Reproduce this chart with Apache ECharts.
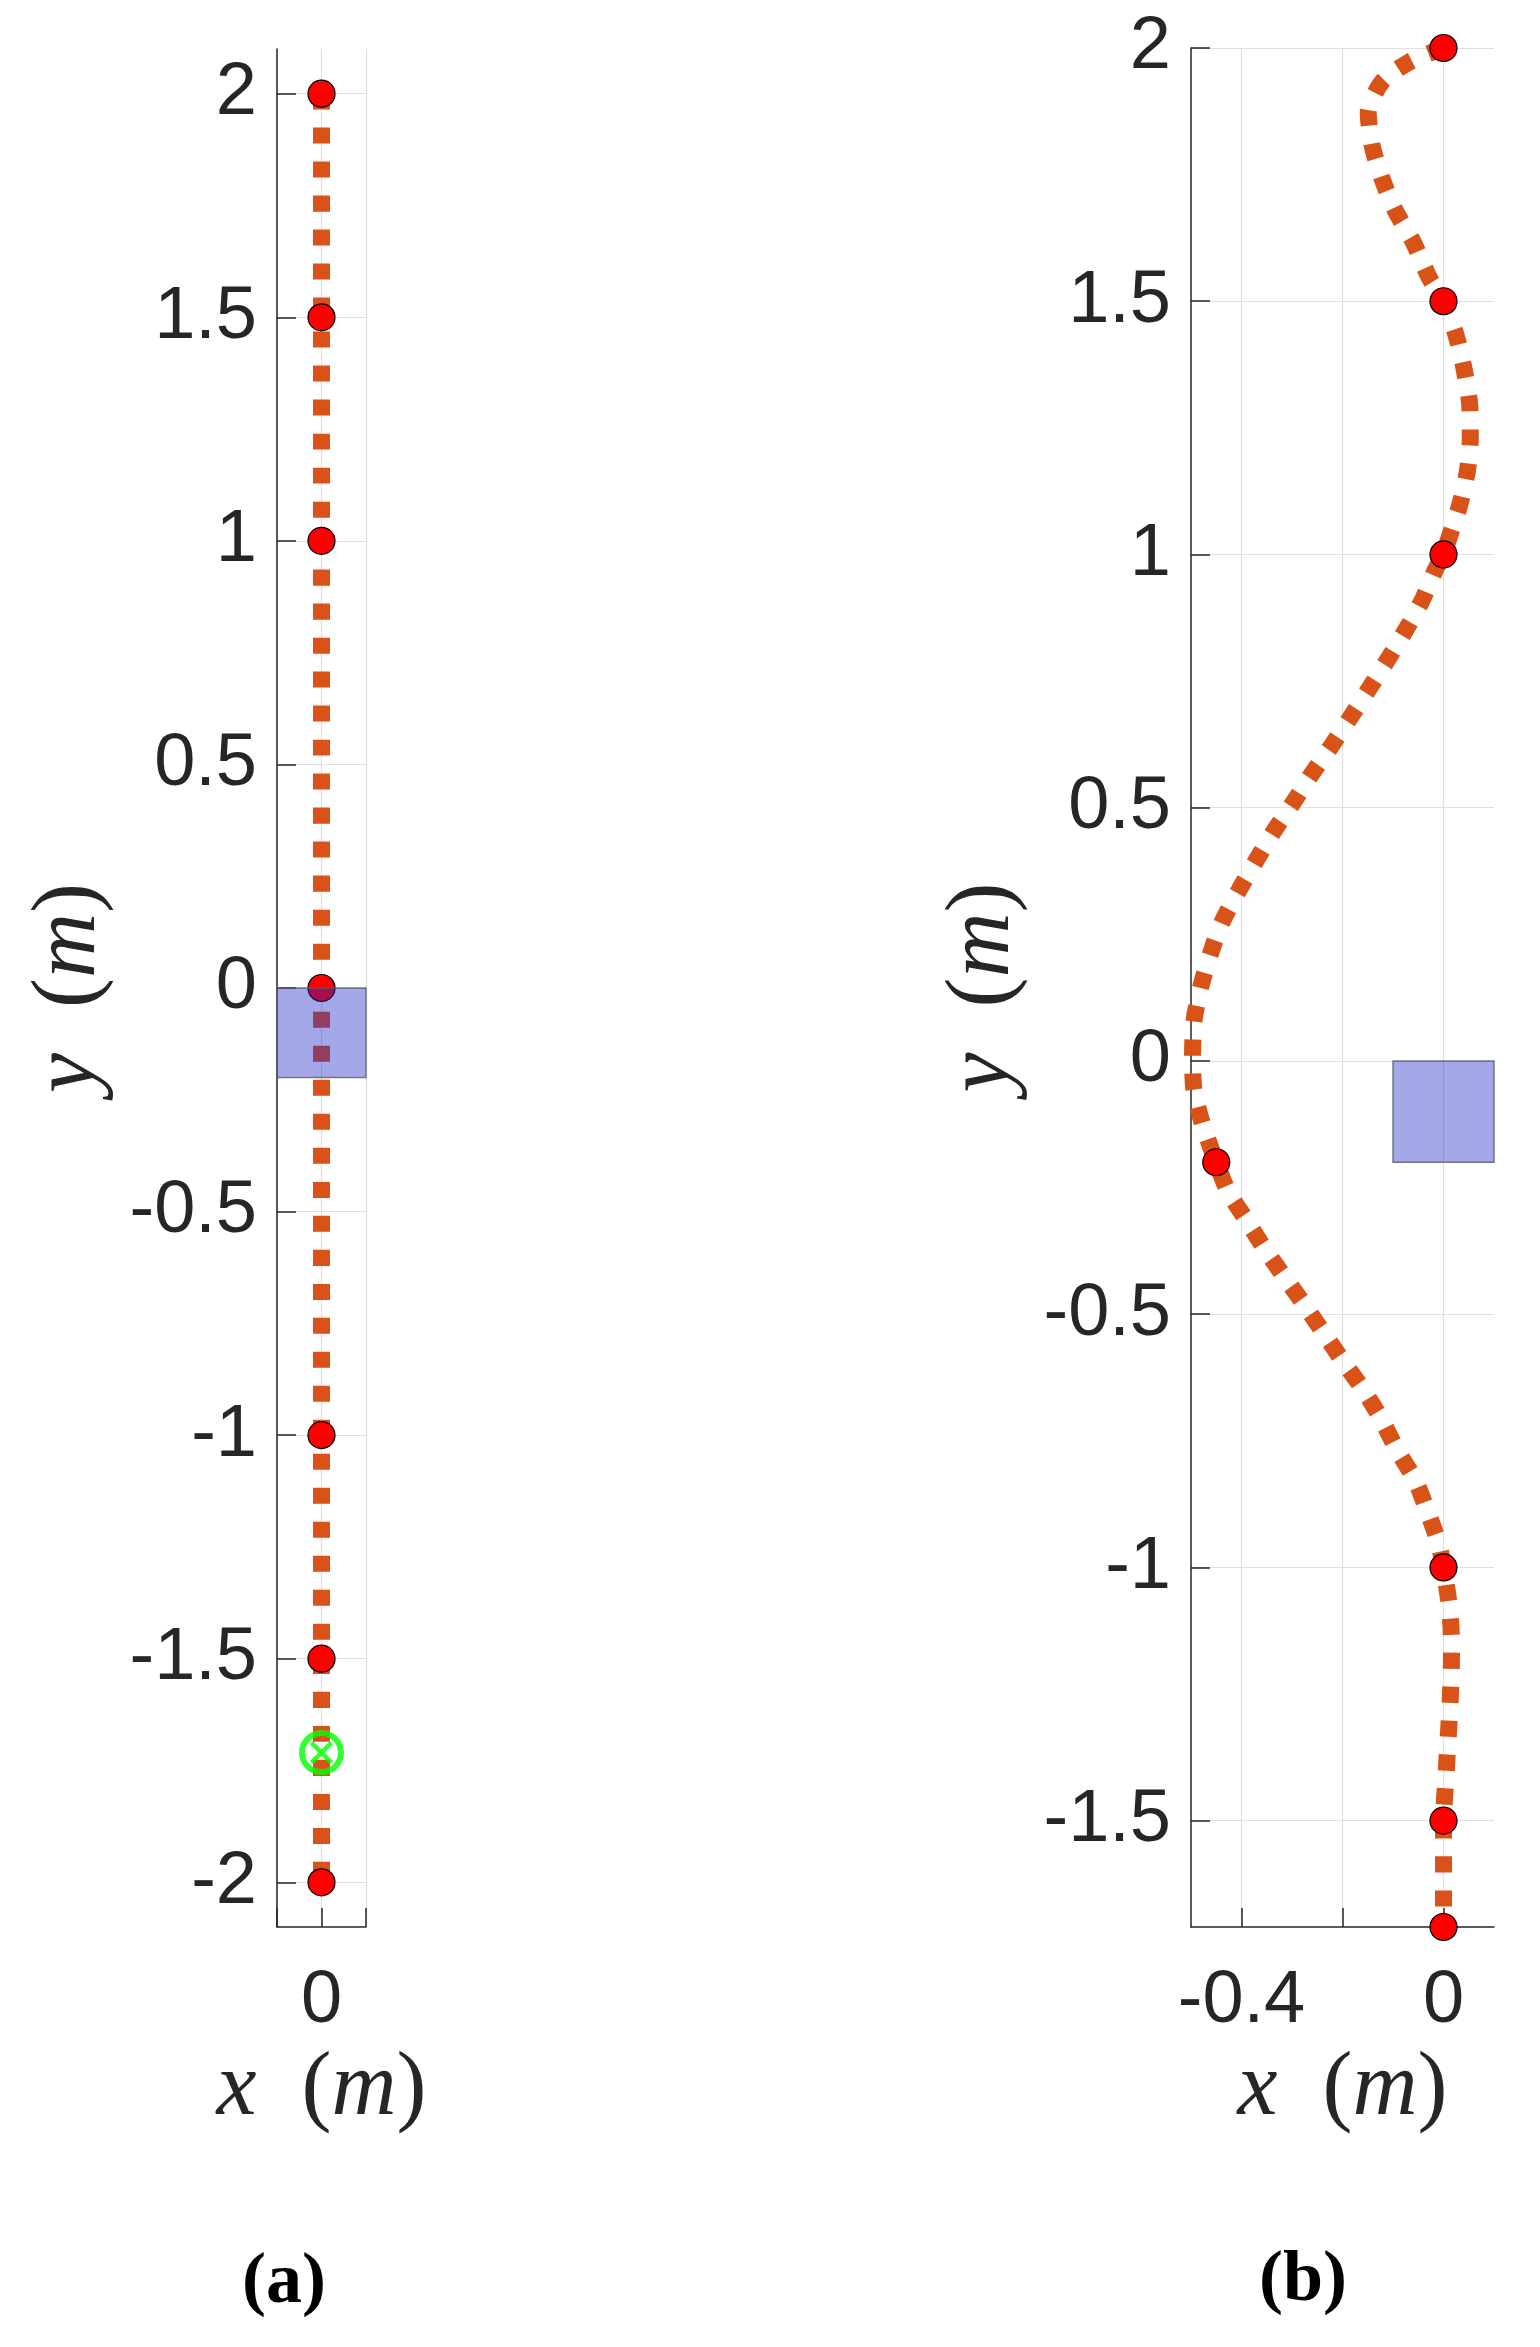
<!DOCTYPE html>
<html>
<head>
<meta charset="utf-8">
<script src="https://cdn.jsdelivr.net/npm/echarts@6/dist/echarts.min.js"></script>
<style>
html,body{margin:0;padding:0;background:#fff;}
#chart{width:1540px;height:2347px;}
</style>
</head>
<body>
<div id="chart"></div>
<script>
// ---------- data ----------
// panel (a): straight path
const pathA_x = [0, 0];
const pathA_y = [2, -2];
const waypointsA_x = [0, 0, 0, 0, 0, 0, 0];
const waypointsA_y = [2, 1.5, 1, 0, -1, -1.5, -2];
const targetA = [0, -1.71];

// panel (b): deviated path
const pathB_x = [0, -0.065, -0.121, -0.149, -0.141, -0.121, -0.095, -0.060, -0.028, 0,
  0.024, 0.040, 0.052, 0.053, 0.047, 0.032, 0.012, 0, -0.016, -0.043, -0.076, -0.112,
  -0.148, -0.186, -0.224, -0.262, -0.299, -0.337, -0.372, -0.405, -0.438, -0.460, -0.481,
  -0.494, -0.497, -0.494, -0.477, -0.450, -0.427, -0.393, -0.356, -0.319, -0.278, -0.238,
  -0.202, -0.161, -0.125, -0.093, -0.056, -0.032, -0.010, 0, 0.012, 0.016, 0.015, 0.012,
  0.008, 0.004, 0, 0, 0, 0];
const pathB_y = [2, 1.974, 1.934, 1.872, 1.806, 1.740, 1.678, 1.617, 1.546, 1.5,
  1.436, 1.370, 1.295, 1.229, 1.163, 1.097, 1.036, 1, 0.970, 0.908, 0.849, 0.790,
  0.734, 0.676, 0.619, 0.565, 0.508, 0.452, 0.394, 0.337, 0.275, 0.216, 0.145,
  0.079, 0.008, -0.058, -0.125, -0.200, -0.257, -0.310, -0.368, -0.421, -0.478, -0.536,
  -0.589, -0.646, -0.704, -0.766, -0.828, -0.889, -0.951, -1, -1.08, -1.155, -1.219, -1.288,
  -1.358, -1.427, -1.5, -1.56, -1.63, -1.71];
const waypointsB_x = [0, 0, 0, -0.45, 0, 0, 0];
const waypointsB_y = [2, 1.5, 1, -0.2, -1, -1.5, -1.71];

// obstacle box [x0, x1, y0, y1]
const boxX = [-0.1, 0.1];
const boxY = [-0.2, 0];

// ticks
const yTicksA = [-2, -1.5, -1, -0.5, 0, 0.5, 1, 1.5, 2];
const xTicksA = [-0.1, 0, 0.1];
const xLabelsA = [0];
const yTicksB = [-1.5, -1, -0.5, 0, 0.5, 1, 1.5, 2];
const xTicksB = [-0.4, -0.2, 0];
const xLabelsB = [-0.4, 0];

// ---------- helpers ----------
const zip = (xs, ys) => xs.map((x, i) => [x, ys[i]]);
const AX = '#262626';
const GRIDC = '#e0e0e0';
const LINEC = '#D95319';
const tickFont = {fontFamily: 'Liberation Sans', fontSize: 74, color: AX};
const mathRich = {
  i: {fontFamily: 'Liberation Serif', fontStyle: 'italic', fontSize: 90, color: AX},
  r: {fontFamily: 'Liberation Serif', fontSize: 90, color: AX}
};
function axisName(v) { return '{i|' + v + '}{r|\u2002(}{i|m}{r|)}'; }

function xAxisCfg(idx, min, max, ticks, labels) {
  return {
    type: 'value', gridIndex: idx, min: min, max: max,
    axisLine: {show: true, onZero: false, lineStyle: {color: AX, width: 1.5}},
    axisTick: {show: true, inside: true, length: 19, customValues: ticks, lineStyle: {color: AX, width: 1.5}},
    axisLabel: Object.assign({margin: 38, customValues: labels}, tickFont),
    splitLine: {show: true, lineStyle: {color: GRIDC, width: 1.2}},
    name: axisName('x'), nameLocation: 'middle', nameGap: 118,
    nameTextStyle: {fontSize: 90, rich: mathRich}
  };
}
function yAxisCfg(idx, min, max, ticks) {
  return {
    type: 'value', gridIndex: idx, min: min, max: max,
    axisLine: {show: true, onZero: false, lineStyle: {color: AX, width: 1.5}},
    axisTick: {show: true, inside: true, length: 19, customValues: ticks, lineStyle: {color: AX, width: 1.5}},
    axisLabel: Object.assign({margin: 20, customValues: ticks}, tickFont),
    splitLine: {show: true, lineStyle: {color: GRIDC, width: 1.2}},
    name: axisName('y'), nameLocation: 'middle', nameGap: 162,
    nameTextStyle: {fontSize: 90, rich: mathRich}
  };
}
function boxSeries(idx, z) {
  return {
    type: 'custom', xAxisIndex: idx, yAxisIndex: idx, z: z, clip: false,
    data: [[boxX[0], boxX[1], boxY[0], boxY[1]]],
    encode: {x: [0, 1], y: [2, 3]},
    renderItem: function (params, api) {
      const p0 = api.coord([api.value(0), api.value(2)]);
      const p1 = api.coord([api.value(1), api.value(3)]);
      return {
        type: 'rect',
        shape: {x: Math.min(p0[0], p1[0]), y: Math.min(p0[1], p1[1]),
                width: Math.abs(p1[0] - p0[0]), height: Math.abs(p1[1] - p0[1])},
        style: {fill: 'rgba(30,38,197,0.4)', stroke: 'rgba(90,90,110,0.8)', lineWidth: 1.5}
      };
    }
  };
}
function pathSeries(idx, data) {
  return {
    type: 'line', xAxisIndex: idx, yAxisIndex: idx, z: 2, data: data,
    symbol: 'none', smooth: 0.25, clip: false,
    lineStyle: {color: LINEC, width: 17, type: [16, 18], cap: 'butt'}
  };
}
function markerSeries(idx, data) {
  return {
    type: 'scatter', xAxisIndex: idx, yAxisIndex: idx, z: 3, data: data, clip: false,
    symbol: 'circle', symbolSize: 27,
    itemStyle: {color: '#ff0000', borderColor: '#000', borderWidth: 1.2, opacity: 1}
  };
}

const option = {
  animation: false,
  backgroundColor: '#ffffff',
  grid: [
    {left: 277, top: 49, width: 89, height: 1878, containLabel: false, outerBoundsMode: 'none'},
    {left: 1191, top: 48, width: 303, height: 1879, containLabel: false, outerBoundsMode: 'none'}
  ],
  xAxis: [
    xAxisCfg(0, -0.1, 0.1, xTicksA, xLabelsA),
    xAxisCfg(1, -0.5, 0.1, xTicksB, xLabelsB)
  ],
  yAxis: [
    yAxisCfg(0, -2.1, 2.1, yTicksA),
    yAxisCfg(1, -1.71, 2, yTicksB)
  ],
  series: [
    pathSeries(0, zip(pathA_x, pathA_y)),
    markerSeries(0, zip(waypointsA_x, waypointsA_y)),
    {
      type: 'scatter', xAxisIndex: 0, yAxisIndex: 0, z: 4, data: [targetA],
      symbol: 'circle', symbolSize: 39,
      itemStyle: {color: 'rgba(0,0,0,0)', borderColor: '#00ff00', borderWidth: 6}
    },
    {
      type: 'scatter', xAxisIndex: 0, yAxisIndex: 0, z: 4, data: [targetA],
      symbol: 'path://M0,0L10,10M10,0L0,10', symbolSize: 20,
      itemStyle: {color: 'none', borderColor: '#00ff00', borderWidth: 4.5}
    },
    boxSeries(0, 5),
    pathSeries(1, zip(pathB_x, pathB_y)),
    markerSeries(1, zip(waypointsB_x, waypointsB_y)),
    boxSeries(1, 5)
  ],
  graphic: [
    {type: 'text', left: 242, top: 2247, style: {text: '(a)', font: 'bold 72px "Liberation Serif"', fill: '#000'}},
    {type: 'text', left: 1259, top: 2245, style: {text: '(b)', font: 'bold 72px "Liberation Serif"', fill: '#000'}}
  ]
};

const chart = echarts.init(document.getElementById('chart'), null, {renderer: 'canvas'});
chart.setOption(option);
</script>
</body>
</html>
